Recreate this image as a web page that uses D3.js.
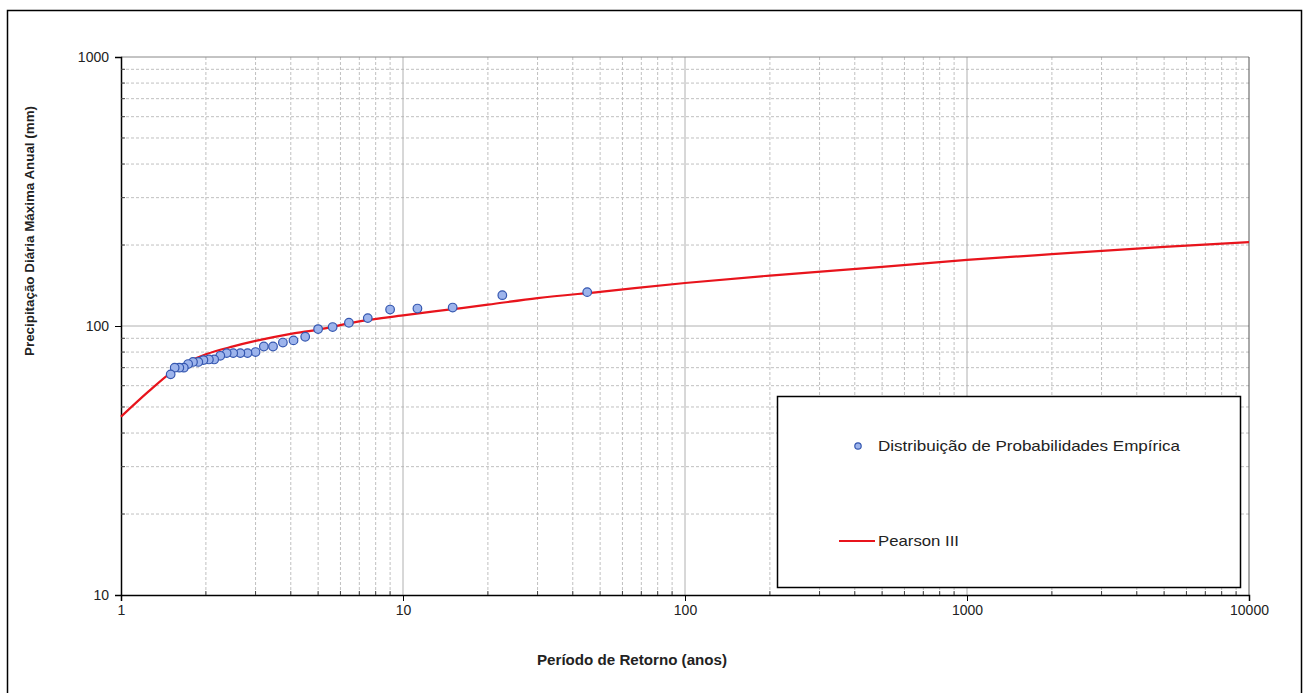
<!DOCTYPE html>
<html>
<head>
<meta charset="utf-8">
<script src="https://cdn.jsdelivr.net/npm/d3@7"></script>
<style>
  html, body { margin: 0; padding: 0; background: #fff; }
  svg { display: block; font-family: "Liberation Sans", Arial, sans-serif; }
</style>
</head>
<body>
<svg id="chart" width="1306" height="693"></svg>
<script>
// Empirical return periods (years) and annual maximum daily rainfall (mm)
const empiricalPeriods = [45, 22.5, 15, 11.25, 9, 7.5, 6.43, 5.63, 5, 4.5, 4.09, 3.75, 3.46, 3.21, 3,
  2.81, 2.65, 2.5, 2.37, 2.25, 2.14, 2.05, 1.96, 1.88, 1.8, 1.73, 1.67, 1.61, 1.55, 1.5];
const empiricalRain = [133.6, 130.2, 117.1, 116.1, 115.1, 107.0, 102.8, 99.1, 97.4, 91.2, 88.4, 86.8, 83.9, 83.9, 80.0,
  79.3, 79.3, 79.3, 79.3, 77.5, 75.1, 75.1, 74.7, 73.5, 73.5, 72.2, 70.0, 70.0, 70.0, 66.1];

// Fitted Pearson III quantiles
const pearsonPeriods = [1, 1.25, 1.5, 1.75, 2, 2.5, 3, 4, 5, 7, 10, 15, 20, 30, 50, 100, 200, 500, 1000, 2000, 5000, 10000];
const pearsonRain = [46, 57, 67, 74, 78.5, 84, 88, 93.5, 97, 104, 109.5, 115.5, 120, 127, 134, 144.5, 154, 166, 176, 185, 197, 205];

const xTicks = [1, 10, 100, 1000, 10000];
const yTicks = [10, 100, 1000];

const seriesNames = ["Distribuição de Probabilidades Empírica", "Pearson III"];
const xTitle = "Período de Retorno (anos)";
const yTitle = "Precipitação Diária Máxima Anual (mm)";

const svg = d3.select("#chart");
const plotLeft = 121, plotRight = 1249, plotTop = 57, plotBottom = 595;

const x = d3.scaleLog().domain([1, 10000]).range([plotLeft, plotRight]);
const y = d3.scaleLog().domain([10, 1000]).range([plotBottom, plotTop]);

// outer frame
svg.append("rect").attr("x", 7.5).attr("y", 10.5).attr("width", 1294).attr("height", 700)
  .attr("fill", "none").attr("stroke", "#000").attr("stroke-width", 1.5);

// minor values (2..9) within each decade
const minorVals = (lo, hi) => {
  const out = [];
  for (let d = lo; d < hi; d *= 10) for (let k = 2; k <= 9; k++) out.push(d * k);
  return out;
};
const xMinor = minorVals(1, 10000);
const yMinor = minorVals(10, 1000);

const grid = svg.append("g");
grid.selectAll(".vmin").data(xMinor).join("line")
  .attr("x1", d => x(d)).attr("x2", d => x(d)).attr("y1", plotTop).attr("y2", plotBottom)
  .attr("stroke", "#c0c0c0").attr("stroke-dasharray", "3,2").attr("stroke-width", 1);
grid.selectAll(".hmin").data(yMinor).join("line")
  .attr("x1", plotLeft).attr("x2", plotRight).attr("y1", d => y(d)).attr("y2", d => y(d))
  .attr("stroke", "#c0c0c0").attr("stroke-dasharray", "3,2").attr("stroke-width", 1);
grid.selectAll(".vmaj").data(xTicks.slice(1, -1)).join("line")
  .attr("x1", d => x(d)).attr("x2", d => x(d)).attr("y1", plotTop).attr("y2", plotBottom)
  .attr("stroke", "#b0b0b0").attr("stroke-width", 1);
grid.selectAll(".hmaj").data(yTicks.slice(1, -1)).join("line")
  .attr("x1", plotLeft).attr("x2", plotRight).attr("y1", d => y(d)).attr("y2", d => y(d))
  .attr("stroke", "#b0b0b0").attr("stroke-width", 1);

// plot border (top/right)
svg.append("line").attr("x1", plotLeft).attr("x2", plotRight).attr("y1", plotTop).attr("y2", plotTop)
  .attr("stroke", "#888").attr("stroke-width", 1);
svg.append("line").attr("x1", plotRight).attr("x2", plotRight).attr("y1", plotTop).attr("y2", plotBottom)
  .attr("stroke", "#555").attr("stroke-width", 1);

// axes
const xAxis = svg.append("g").attr("transform", `translate(0,${plotBottom})`)
  .call(d3.axisBottom(x).tickValues(xTicks).tickFormat(d3.format("d")).tickSize(6).tickPadding(4));
const yAxis = svg.append("g").attr("transform", `translate(${plotLeft},0)`)
  .call(d3.axisLeft(y).tickValues(yTicks).tickFormat(d3.format("d")).tickSize(6).tickPadding(6));
[xAxis, yAxis].forEach(g => {
  g.select(".domain").attr("stroke", "#000").attr("stroke-width", 1.5);
  g.selectAll(".tick line").attr("stroke", "#000");
  g.selectAll(".tick text").attr("fill", "#222").attr("font-size", 14)
    .attr("font-family", "'Liberation Sans', Arial, sans-serif");
});
// minor ticks inside the plot
svg.append("g").selectAll("line").data(xMinor).join("line")
  .attr("x1", d => x(d)).attr("x2", d => x(d)).attr("y1", plotBottom).attr("y2", plotBottom - 4)
  .attr("stroke", "#444");
svg.append("g").selectAll("line").data(yMinor).join("line")
  .attr("x1", plotLeft).attr("x2", plotLeft + 4).attr("y1", d => y(d)).attr("y2", d => y(d))
  .attr("stroke", "#444");

// Pearson III curve
const curve = pearsonPeriods.map((t, i) => [t, pearsonRain[i]]);
svg.append("path").datum(curve)
  .attr("d", d3.line().x(d => x(d[0])).y(d => y(d[1])).curve(d3.curveMonotoneX))
  .attr("fill", "none").attr("stroke", "#e8141c").attr("stroke-width", 2.2);

// empirical points
const pts = empiricalPeriods.map((t, i) => [t, empiricalRain[i]]);
svg.append("g").selectAll("circle").data(pts).join("circle")
  .attr("cx", d => x(d[0])).attr("cy", d => y(d[1])).attr("r", 4.3)
  .attr("fill", "#9db4ec").attr("stroke", "#3557b0").attr("stroke-width", 1.2);

// axis titles
svg.append("text").attr("x", 632).attr("y", 665).attr("text-anchor", "middle")
  .attr("font-weight", "bold").attr("font-size", 14).attr("fill", "#222")
  .attr("textLength", 190).attr("lengthAdjust", "spacingAndGlyphs").text(xTitle);
svg.append("text").attr("transform", "translate(34,231) rotate(-90)").attr("text-anchor", "middle")
  .attr("font-weight", "bold").attr("font-size", 13).attr("fill", "#222")
  .attr("textLength", 250).attr("lengthAdjust", "spacingAndGlyphs").text(yTitle);

// legend
const lg = svg.append("g");
lg.append("rect").attr("x", 777.5).attr("y", 396.5).attr("width", 463).attr("height", 191)
  .attr("fill", "#fff").attr("stroke", "#000").attr("stroke-width", 1.5);
lg.append("circle").attr("cx", 858).attr("cy", 446).attr("r", 3.2)
  .attr("fill", "#9db4ec").attr("stroke", "#3557b0").attr("stroke-width", 1.2);
lg.append("text").attr("x", 878).attr("y", 451).attr("font-size", 15).attr("fill", "#222")
  .attr("textLength", 302).attr("lengthAdjust", "spacingAndGlyphs").text(seriesNames[0]);
lg.append("line").attr("x1", 839).attr("x2", 875).attr("y1", 541).attr("y2", 541)
  .attr("stroke", "#e8141c").attr("stroke-width", 2.2);
lg.append("text").attr("x", 878).attr("y", 546).attr("font-size", 15).attr("fill", "#222")
  .attr("textLength", 81).attr("lengthAdjust", "spacingAndGlyphs").text(seriesNames[1]);
</script>
</body>
</html>
